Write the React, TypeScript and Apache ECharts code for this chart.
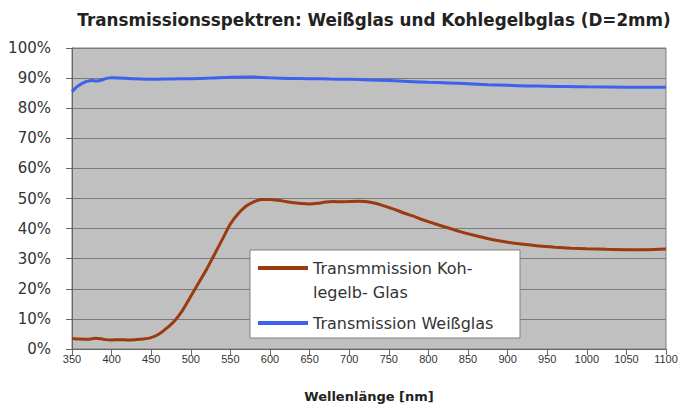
import React, { useEffect, useRef } from "react";
import * as echarts from "echarts";

const titleText = "Transmissionsspektren: Weißglas und Kohlegelbglas (D=2mm)";
const xAxisName = "Wellenlänge [nm]";
const seriesNames = ["Transmmission Kohlegelb- Glas", "Transmission Weißglas"];
const legendLabels = [" \nTransmmission Koh-\nlegelb- Glas", "Transmission Weißglas"];

const kohleWavelengths = [350, 360, 370, 380, 390, 400, 410, 420, 430, 440, 450, 460, 470, 480, 490, 500, 510, 520, 530, 540, 550, 560, 570, 580, 590, 600, 610, 620, 630, 640, 650, 660, 670, 680, 690, 700, 710, 720, 730, 740, 750, 760, 770, 780, 790, 800, 820, 840, 860, 880, 900, 920, 940, 960, 980, 1000, 1025, 1050, 1075, 1100];
const kohleValues = [3.5, 3.3, 3.2, 3.6, 3.2, 3.0, 3.1, 3.0, 3.1, 3.3, 3.8, 5.0, 7.0, 9.5, 13.0, 17.5, 22.0, 26.5, 31.5, 36.5, 41.5, 45.0, 47.5, 49.0, 49.7, 49.7, 49.4, 49.0, 48.6, 48.3, 48.2, 48.4, 48.8, 49.0, 48.9, 49.0, 49.1, 49.0, 48.6, 47.9, 47.0, 46.1, 45.1, 44.2, 43.2, 42.3, 40.6, 39.0, 37.6, 36.4, 35.5, 34.8, 34.2, 33.8, 33.5, 33.3, 33.1, 33.0, 33.0, 33.2];

const weissWavelengths = [350, 355, 360, 365, 370, 375, 380, 385, 390, 395, 400, 410, 425, 450, 475, 500, 525, 550, 575, 600, 625, 650, 675, 700, 725, 750, 775, 800, 825, 850, 875, 900, 925, 950, 975, 1000, 1050, 1100];
const weissValues = [85.5, 86.8, 87.8, 88.5, 89.0, 89.2, 89.0, 89.2, 89.6, 90.0, 90.1, 90.0, 89.8, 89.6, 89.7, 89.8, 90.0, 90.3, 90.4, 90.1, 89.9, 89.8, 89.7, 89.6, 89.4, 89.2, 88.9, 88.6, 88.4, 88.1, 87.8, 87.6, 87.4, 87.3, 87.2, 87.1, 87.0, 87.0];

const xMin = 350;
const xMax = 1100;
const xStep = 50;
const yMin = 0;
const yMax = 100;
const yStep = 10;

export default function App() {
  const ref = useRef<HTMLDivElement>(null);
  useEffect(() => {
    if (!ref.current) return;
    const chart = echarts.init(ref.current, undefined, { renderer: "svg" });
    const font = "DejaVu Sans";
    chart.setOption({
      animation: false,
      backgroundColor: "#ffffff",
      title: {
        text: titleText,
        left: 369,
        top: 6,
        textAlign: "center",
        textStyle: { fontFamily: font, fontWeight: "bold", fontSize: 16.8, color: "#222" },
      },
      grid: {
        left: 72,
        right: 17,
        top: 48,
        bottom: 62,
        show: true,
        backgroundColor: "#c0c0c0",
        borderColor: "#808080",
        borderWidth: 1,
      },
      xAxis: {
        type: "value",
        min: xMin,
        max: xMax,
        interval: xStep,
        name: xAxisName,
        nameLocation: "middle",
        nameGap: 41,
        nameTextStyle: { fontFamily: font, fontWeight: "bold", fontSize: 13, color: "#222" },
        axisLine: { show: true, lineStyle: { color: "#666", width: 1 } },
        axisTick: { show: true, length: 6, lineStyle: { color: "#666" } },
        axisLabel: {
          fontFamily: "Liberation Sans",
          fontSize: 11,
          color: "#333",
          margin: 4,
          formatter: (v: number) => String(v),
        },
        splitLine: { show: false },
      },
      yAxis: {
        type: "value",
        min: yMin,
        max: yMax,
        interval: yStep,
        axisLine: { show: true, lineStyle: { color: "#666", width: 1 } },
        axisTick: { show: true, length: 6, lineStyle: { color: "#666" } },
        axisLabel: { fontFamily: font, fontSize: 15, color: "#333", margin: 21, formatter: "{value}%" },
        splitLine: { show: true, lineStyle: { color: "#7a7a7a", width: 1 } },
      },
      legend: {
        orient: "vertical",
        left: 258,
        top: 232,
        padding: 0,
        itemWidth: 50,
        itemHeight: 4,
        itemGap: 7,
        icon: "rect",
        data: [{ name: seriesNames[0] }, { name: seriesNames[1] }],
        formatter: (name: string) => legendLabels[seriesNames.indexOf(name)],
        textStyle: { fontFamily: font, fontSize: 16, color: "#333", lineHeight: 24 },
        z: 5,
      },
      graphic: [
        {
          type: "rect",
          z: 4,
          shape: { x: 250, y: 250, width: 270, height: 88 },
          style: { fill: "#ffffff", stroke: "#808080", lineWidth: 1 },
        },
      ],
      series: [
        {
          name: seriesNames[0],
          type: "line",
          data: kohleWavelengths.map((w, i) => [w, kohleValues[i]]),
          smooth: 0.3,
          showSymbol: false,
          lineStyle: { color: "#9c3a10", width: 3 },
          itemStyle: { color: "#9c3a10" },
        },
        {
          name: seriesNames[1],
          type: "line",
          data: weissWavelengths.map((w, i) => [w, weissValues[i]]),
          smooth: 0.3,
          showSymbol: false,
          lineStyle: { color: "#3d62ee", width: 3 },
          itemStyle: { color: "#3d62ee" },
        },
      ],
    });
    return () => chart.dispose();
  }, []);
  return (
    <div
      ref={ref}
      style={{ position: "absolute", left: 0, top: 0, width: 683, height: 411 }}
    />
  );
}
